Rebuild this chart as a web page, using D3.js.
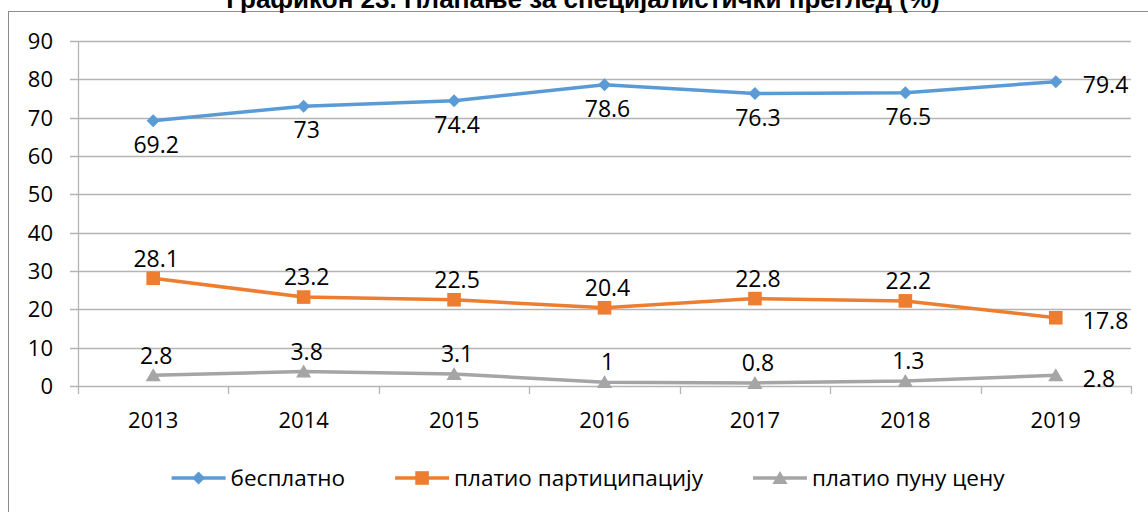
<!DOCTYPE html>
<html>
<head>
<meta charset="utf-8">
<script src="https://cdn.jsdelivr.net/npm/d3@7"></script>
<style>
  html, body { margin: 0; padding: 0; background: #fff; }
  svg { display: block; }
  text { font-family: "Open Sans", "Noto Sans", sans-serif; fill: #000; }
</style>
</head>
<body>
<div id="chart"></div>
<script>
// data
const years = ['2013', '2014', '2015', '2016', '2017', '2018', '2019'];
const free = [69.2, 73, 74.4, 78.6, 76.3, 76.5, 79.4];
const copay = [28.1, 23.2, 22.5, 20.4, 22.8, 22.2, 17.8];
const fullPrice = [2.8, 3.8, 3.1, 1, 0.8, 1.3, 2.8];
const yTicks = [0, 10, 20, 30, 40, 50, 60, 70, 80, 90];
const seriesNames = ['бесплатно', 'платио партиципацију', 'платио пуну цену'];
const title = 'Графикон 23. Плаћање за специјалистички преглед (%)';

const W = 1148, H = 512;
const margin = {left: 78, right: 17, top: 41, bottom: 126};

const series = [
  {name: seriesNames[0], values: free, color: '#5B9BD5', marker: 'diamond', label: 'below'},
  {name: seriesNames[1], values: copay, color: '#ED7D31', marker: 'square', label: 'above'},
  {name: seriesNames[2], values: fullPrice, color: '#A5A5A5', marker: 'triangle', label: 'above'}
];

const svg = d3.select('#chart').append('svg')
  .attr('width', W)
  .attr('height', H);

// chart frame
svg.append('rect')
  .attr('x', 8.5).attr('y', 11.5)
  .attr('width', 1150).attr('height', 520)
  .attr('fill', 'none')
  .attr('stroke', '#8c8c8c')
  .attr('stroke-width', 1);

// title sits partly above the page top, as in the source image
svg.append('text')
  .attr('x', 583).attr('y', 8)
  .attr('text-anchor', 'middle')
  .style('font-family', '"Liberation Sans", Arial, sans-serif')
  .style('font-weight', 'bold')
  .style('font-size', '26px')
  .text(title);

const x = d3.scaleBand()
  .domain(years)
  .range([margin.left, W - margin.right]);

const y = d3.scaleLinear()
  .domain([0, 90])
  .range([H - margin.bottom, margin.top]);

const cx = d => x(d) + x.bandwidth() / 2;

// gridlines + y ticks (outside tick marks)
svg.append('g')
  .selectAll('line')
  .data(yTicks)
  .join('line')
    .attr('x1', margin.left - 8)
    .attr('x2', W - margin.right)
    .attr('y1', d => Math.round(y(d)) + 0.5)
    .attr('y2', d => Math.round(y(d)) + 0.5)
    .attr('stroke', '#b4b4b4')
    .attr('stroke-width', 1.3);

svg.append('g')
  .selectAll('text')
  .data(yTicks)
  .join('text')
    .attr('x', 53)
    .attr('y', d => y(d))
    .attr('dy', '0.36em')
    .attr('text-anchor', 'end')
    .style('font-size', '22px')
    .text(d => d);

// y axis line
svg.append('line')
  .attr('x1', margin.left + 0.5).attr('x2', margin.left + 0.5)
  .attr('y1', y(90)).attr('y2', y(0) + 8)
  .attr('stroke', '#b4b4b4')
  .attr('stroke-width', 1.3);

// x tick marks at category boundaries
const bounds = years.map(d => x(d)).concat([x(years[years.length - 1]) + x.bandwidth()]);
svg.append('g')
  .selectAll('line')
  .data(bounds.slice(1))
  .join('line')
    .attr('x1', d => Math.round(d) + 0.5)
    .attr('x2', d => Math.round(d) + 0.5)
    .attr('y1', y(0))
    .attr('y2', y(0) + 8)
    .attr('stroke', '#b4b4b4')
    .attr('stroke-width', 1.3);

svg.append('g')
  .selectAll('text')
  .data(years)
  .join('text')
    .attr('x', d => cx(d))
    .attr('y', 420)
    .attr('dy', '0.36em')
    .attr('text-anchor', 'middle')
    .style('font-size', '22px')
    .text(d => d);

function markerPath(type, s) {
  if (type === 'diamond') return `M0,${-s}L${s},0L0,${s}L${-s},0Z`;
  if (type === 'square') return `M${-s},${-s}H${s}V${s}H${-s}Z`;
  return `M0,${-s}L${s * 1.08},${s * 0.85}H${-s * 1.08}Z`;
}
const markerSize = {diamond: 6.5, square: 6.8, triangle: 7};

const line = d3.line()
  .x((d, i) => cx(years[i]))
  .y(d => y(d));

series.forEach(s => {
  const g = svg.append('g');
  g.append('path')
    .datum(s.values)
    .attr('d', line)
    .attr('fill', 'none')
    .attr('stroke', s.color)
    .attr('stroke-width', 3.5)
    .attr('stroke-linejoin', 'round');

  g.selectAll('path.m')
    .data(s.values)
    .join('path')
      .attr('class', 'm')
      .attr('transform', (d, i) => `translate(${cx(years[i])},${y(d)})`)
      .attr('d', markerPath(s.marker, markerSize[s.marker]))
      .attr('fill', s.color);

  // last point labelled to the right, the rest above/below
  g.selectAll('text')
    .data(s.values)
    .join('text')
      .attr('x', (d, i) => i === s.values.length - 1 ? cx(years[i]) + 27 : cx(years[i]) + 3)
      .attr('y', (d, i) => {
        if (i === s.values.length - 1) return y(d) + 3;
        return s.label === 'below' ? y(d) + 24 : y(d) - 20;
      })
      .attr('dy', '0.36em')
      .attr('text-anchor', (d, i) => i === s.values.length - 1 ? 'start' : 'middle')
      .style('font-size', '23px')
      .text(d => d);
});

// legend
const legendY = 478;
const legend = svg.append('g');
const items = legend.selectAll('g')
  .data(series)
  .join('g');
items.append('text')
  .attr('x', 59)
  .attr('y', legendY)
  .attr('dy', '0.36em')
  .style('font-size', '22.5px')
  .text(d => d.name);

let widths = [];
items.select('text').each(function () { widths.push(this.getComputedTextLength()); });
const gap = 50;
const total = d3.sum(widths) + series.length * 59 + gap * (series.length - 1);
let pos = 588 - total / 2;
items.each(function (d, i) {
  const it = d3.select(this);
  it.attr('transform', `translate(${pos},0)`);
  it.append('line')
    .attr('x1', 0).attr('x2', 54)
    .attr('y1', legendY).attr('y2', legendY)
    .attr('stroke', d.color)
    .attr('stroke-width', 3.5);
  it.append('path')
    .attr('transform', `translate(27,${legendY})`)
    .attr('d', markerPath(d.marker, markerSize[d.marker]))
    .attr('fill', d.color);
  pos += 59 + widths[i] + gap;
});
</script>
</body>
</html>
